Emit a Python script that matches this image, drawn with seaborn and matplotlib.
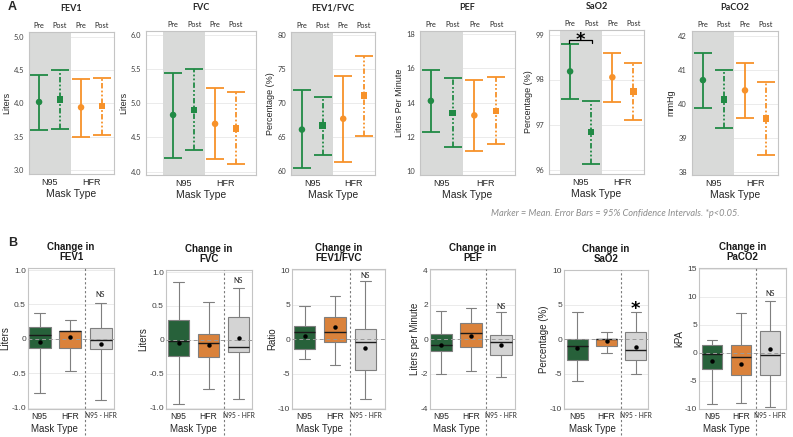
import numpy as np
import pandas as pd
import matplotlib
matplotlib.use('Agg')
import matplotlib.pyplot as plt
import matplotlib.transforms as mtransforms
from matplotlib.lines import Line2D
import seaborn as sns

sns.set_theme(style='white')
plt.rcParams['font.family'] = ['Liberation Sans', 'DejaVu Sans']
CAL = ['Lato', 'DejaVu Sans']

# ---------------- Panel A data: mean and 95% CI ----------------
a_masks = ['N95', 'N95', 'HFR', 'HFR']
a_phases = ['Pre', 'Post', 'Pre', 'Post']
a_titles = ['FEV1', 'FVC', 'FEV1/FVC', 'PEF', 'SaO2', 'PaCO2']
a_ylabels = ['Liters', 'Liters', 'Percentage (%)', 'Liters Per Minute', 'Percentage (%)', 'mmHg']

fev1_mean = [4.02, 4.06, 3.94, 3.96]
fev1_lo = [3.60, 3.61, 3.50, 3.52]
fev1_hi = [4.43, 4.50, 4.37, 4.38]

fvc_mean = [4.83, 4.90, 4.70, 4.63]
fvc_lo = [4.20, 4.31, 4.18, 4.11]
fvc_hi = [5.45, 5.50, 5.23, 5.16]

ratio_mean = [66.1, 66.7, 67.7, 71.1]
ratio_lo = [60.4, 62.3, 61.3, 65.2]
ratio_hi = [71.9, 70.9, 74.0, 77.0]

pef_mean = [14.1, 13.4, 13.25, 13.5]
pef_lo = [12.3, 11.4, 11.18, 11.55]
pef_hi = [15.9, 15.45, 15.33, 15.5]

sao2_mean = [98.18, 96.83, 98.05, 97.73]
sao2_lo = [97.56, 96.13, 97.49, 97.09]
sao2_hi = [98.79, 97.53, 98.60, 98.37]

paco2_mean = [40.70, 40.14, 40.40, 39.58]
paco2_lo = [39.88, 39.30, 39.60, 38.52]
paco2_hi = [41.50, 41.00, 41.20, 40.64]

a_yticks = [[3.0, 3.5, 4.0, 4.5, 5.0], [4.0, 4.5, 5.0, 5.5, 6.0], [60, 65, 70, 75, 80],
            [10, 12, 14, 16, 18], [96, 97, 98, 99], [38, 39, 40, 41, 42]]
a_ticklabels = [['3.0', '3.5', '4.0', '4.5', '5.0'], ['4.0', '4.5', '5.0', '5.5', '6.0'],
                ['60', '65', '70', '75', '80'], ['10', '12', '14', '16', '18'],
                ['96', '97', '98', '99'], ['38', '39', '40', '41', '42']]

# ---------------- Panel B data: change boxes (min, q1, median, q3, max) and means ----------------
b_groups = ['N95', 'HFR', 'N95 - HFR']
b_titles = ['Change in\nFEV1', 'Change in\nFVC', 'Change in\nFEV1/FVC', 'Change in\nPEF',
            'Change in\nSaO2', 'Change in\nPaCO2']
b_ylabels = ['Liters', 'Liters', 'Ratio', 'Liters per Minute', 'Percentage (%)', 'kPA']

chg_fev1_n95 = [-0.79, -0.14, 0.06, 0.17, 0.38]
chg_fev1_hfr = [-0.47, -0.14, 0.11, 0.12, 0.27]
chg_fev1_diff = [-0.89, -0.15, -0.01, 0.16, 0.52]
chg_fev1_means = [-0.04, 0.03, -0.07]

chg_fvc_n95 = [-0.95, -0.24, -0.02, 0.29, 0.85]
chg_fvc_hfr = [-0.73, -0.26, -0.05, 0.08, 0.56]
chg_fvc_diff = [-0.87, -0.18, -0.10, 0.34, 0.77]
chg_fvc_means = [-0.05, -0.08, 0.02]

chg_ratio_n95 = [-2.9, -1.4, 1.0, 2.0, 4.8]
chg_ratio_hfr = [-3.7, -0.4, 1.0, 3.3, 6.3]
chg_ratio_diff = [-8.7, -4.4, -0.4, 1.5, 8.5]
chg_ratio_means = [0.45, 1.75, -1.2]

chg_pef_n95 = [-2.0, -0.68, -0.3, 0.32, 1.65]
chg_pef_hfr = [-1.8, -0.45, 0.35, 0.95, 1.8]
chg_pef_diff = [-2.2, -0.9, -0.15, 0.25, 1.6]
chg_pef_means = [-0.35, 0.2, -0.35]

chg_sao2_n95 = [-6.0, -3.0, -1.0, 0.0, 4.0]
chg_sao2_hfr = [-2.0, -1.0, 0.0, 0.0, 1.0]
chg_sao2_diff = [-5.0, -3.0, -1.5, 1.0, 4.0]
chg_sao2_means = [-1.3, -0.3, -1.1]

chg_paco2_n95 = [-9.2, -3.0, -0.2, 1.3, 2.2]
chg_paco2_hfr = [-9.0, -4.0, -0.7, 1.3, 7.0]
chg_paco2_diff = [-9.7, -4.0, -0.5, 3.8, 9.2]
chg_paco2_means = [-1.4, -2.0, 0.6]

b_yticks = [[-1.0, -0.5, 0, 0.5, 1.0], [-1.0, -0.5, 0, 0.5, 1.0], [-10, -5, 0, 5, 10],
            [-4, -2, 0, 2, 4], [-10, -5, 0, 5, 10], [-10, -5, 0, 5, 10, 15]]
b_ticklabels = [['-1.0', '-0.5', '0', '0.5', '1.0'], ['-1.0', '-0.5', '0', '0.5', '1.0'],
                ['-10', '-5', '0', '5', '10'], ['-4', '-2', '0', '2', '4'],
                ['-10', '-5', '0', '5', '10'], ['-10', '-5', '0', '5', '10', '15']]
b_notes = ['NS', 'NS', 'NS', 'NS', '*', 'NS']
b_note_y = [0.64, 0.875, 9.3, 1.9, 3.6, 10.6]

# ---------------- layout / style ----------------
W, H = 793, 437
fig = plt.figure(figsize=(W / 100, H / 100), dpi=100)

def px_axes(l, t, r, b):
    return fig.add_axes([l / W, 1 - b / H, (r - l) / W, (b - t) / H])

top_colors = {'N95': '#218a45', 'HFR': '#f7922a'}
box_colors = {'N95': '#1d6b37', 'HFR': '#f47f20', 'N95 - HFR': '#d4d4d4'}
band_color = '#d9dad9'
spine_color = '#c4c4c4'
grid_color = '#ebebeb'
post_ls = (0, (3, 1.2, 1, 1.2, 1, 1.2))

a_boxes = [(29, 32, 114, 174), (146, 31, 256, 175), (291, 32, 375, 175),
           (420, 31, 515, 175), (549, 30, 644, 174), (692, 31, 778, 175)]
a_xlims = [(-0.48, 3.57), (-1.29, 3.95), (-0.53, 3.54), (-0.5, 3.87), (-1.0, 3.5), (-0.52, 3.57)]
a_ylims = [(2.94, 5.07), (3.95, 6.06), (59.4, 80.5), (9.75, 18.2), (95.9, 99.1), (37.92, 42.14)]

a_data = [(fev1_mean, fev1_lo, fev1_hi), (fvc_mean, fvc_lo, fvc_hi), (ratio_mean, ratio_lo, ratio_hi),
          (pef_mean, pef_lo, pef_hi), (sao2_mean, sao2_lo, sao2_hi), (paco2_mean, paco2_lo, paco2_hi)]

def style_frame(ax):
    for s in ax.spines.values():
        s.set_visible(True)
        s.set_color(spine_color)
        s.set_linewidth(0.8)
    ax.yaxis.grid(True, color=grid_color, lw=0.7)
    ax.xaxis.grid(False)
    ax.set_axisbelow(True)

for i in range(6):
    ax = px_axes(*a_boxes[i])
    means, los, his = a_data[i]
    df = pd.DataFrame({'pos': np.arange(len(a_masks)), 'mean': means, 'lo': los, 'hi': his,
                       'mask': a_masks, 'phase': a_phases})
    ax.axvspan(-0.5, 1.5, color=band_color, lw=0, zorder=1)
    for _, row in df.iterrows():
        c = top_colors[row['mask']]
        eb = ax.errorbar(row['pos'], row['mean'],
                         yerr=[[row['mean'] - row['lo']], [row['hi'] - row['mean']]],
                         fmt='none', ecolor=c, elinewidth=1.3, capsize=6.5, capthick=1.3, zorder=3)
        if row['phase'] == 'Post':
            eb[2][0].set_linestyle(post_ls)
    sns.scatterplot(data=df, x='pos', y='mean', hue='mask', style='phase',
                    markers={'Pre': 'o', 'Post': 's'}, palette=top_colors, s=22, linewidth=0,
                    legend=False, ax=ax, zorder=4)
    ax.set_xlim(*a_xlims[i])
    ax.set_ylim(*a_ylims[i])
    style_frame(ax)
    ax.set_yticks(a_yticks[i])
    ax.set_yticklabels(a_ticklabels[i], family=CAL, fontsize=5.4, color='#404040')
    ax.set_xticks([0.5, 2.5])
    ax.set_xticklabels(['N95', 'HFR'], fontsize=6.5, color='#262626')
    ax.tick_params(axis='x', length=0, pad=3)
    ax.tick_params(axis='y', length=2, width=0.6, color='#999999', pad=1.5)
    ax.set_xlabel('Mask Type', fontsize=7.5, labelpad=1.5, color='#262626')
    ax.set_ylabel(a_ylabels[i], fontsize=6.5, labelpad=2, color='#262626')
    trans = mtransforms.blended_transform_factory(ax.transData, ax.transAxes)
    for p, ph in zip(df['pos'], df['phase']):
        ax.text(p, 1.045, ph, transform=trans, ha='center', va='center', fontsize=5.3,
                family=CAL, color='#262626')
    ax.text(0.5, 1.165, a_titles[i], transform=ax.transAxes, ha='center', va='center',
            fontsize=6.5, fontweight='bold', family=CAL, color='#262626')
    if a_titles[i] == 'SaO2':
        yb = 98.88
        ax.plot([-0.05, -0.05, 1.05, 1.05], [yb - 0.06, yb, yb, yb - 0.06], color='black',
                lw=0.9, zorder=5, clip_on=False)
        ax.text(0.5, 98.77, '*', ha='center', va='baseline', fontsize=13, fontweight='bold',
                family='DejaVu Sans', color='black', zorder=6)

fig.text(8 / W, 1 - 7 / H, 'A', fontsize=9, fontweight='bold', va='center', ha='left')
fig.text(8 / W, 1 - 243 / H, 'B', fontsize=9, fontweight='bold', va='center', ha='left')
fig.text(615 / W, 1 - 213 / H, 'Marker = Mean. Error Bars = 95% Confidence Intervals. *p<0.05.',
         ha='center', va='center', fontsize=6.7, style='italic', family=CAL, color='#8c8c8c')

# ---------------- Panel B ----------------
b_boxes = [(28, 268, 114, 409), (166, 270, 252, 409), (292, 269, 385, 409),
           (430, 269, 515, 409), (564, 270, 648, 409), (699, 268, 786, 409)]
b_xlims = [(-0.38, 2.44), (-0.42, 2.45), (-0.41, 2.64), (-0.37, 2.47), (-0.46, 2.42), (-0.45, 2.55)]
b_ylims = [(-1.02, 1.03), (-1.02, 1.03), (-10.1, 10.2), (-4.02, 4.06), (-10.1, 10.05), (-10.05, 15.1)]
b_data = [(chg_fev1_n95, chg_fev1_hfr, chg_fev1_diff, chg_fev1_means),
          (chg_fvc_n95, chg_fvc_hfr, chg_fvc_diff, chg_fvc_means),
          (chg_ratio_n95, chg_ratio_hfr, chg_ratio_diff, chg_ratio_means),
          (chg_pef_n95, chg_pef_hfr, chg_pef_diff, chg_pef_means),
          (chg_sao2_n95, chg_sao2_hfr, chg_sao2_diff, chg_sao2_means),
          (chg_paco2_n95, chg_paco2_hfr, chg_paco2_diff, chg_paco2_means)]

for i in range(6):
    l, t, r, b = b_boxes[i]
    ax = px_axes(l, t, r, b)
    n95, hfr, diff, means = b_data[i]
    df = pd.DataFrame({'grp': np.repeat(b_groups, 5), 'val': np.concatenate([n95, hfr, diff])})
    sns.boxplot(data=df, x='grp', y='val', hue='grp', order=b_groups, hue_order=b_groups,
                palette=box_colors, whis=(0, 100), width=0.72, linecolor='#7f7f7f',
                linewidth=0.8, showfliers=False, legend=False, ax=ax,
                medianprops={'color': '#1a1a1a', 'linewidth': 1.0})
    sns.pointplot(x=b_groups, y=means, order=b_groups, color='black', linestyle='none',
                  markers='o', markersize=3.2, markeredgewidth=0, errorbar=None, ax=ax,
                  zorder=6)
    ax.axhline(0, color='#9a9a9a', lw=0.7, ls=(0, (4, 3)), zorder=5)
    ax.set_xlim(*b_xlims[i])
    ax.set_ylim(*b_ylims[i])
    style_frame(ax)
    ax.set_yticks(b_yticks[i])
    ax.set_yticklabels(b_ticklabels[i], fontsize=6, color='#404040')
    ax.set_xticks([0, 1, 2])
    ax.set_xticklabels(b_groups, fontsize=6.2, color='#262626')
    ax.get_xticklabels()[2].set_fontsize(4.8)
    ax.get_xticklabels()[2].set_family(CAL)
    ax.tick_params(axis='x', length=0, pad=2.2)
    ax.tick_params(axis='y', length=0, pad=1.5)
    ax.set_xlabel('')
    ax.set_ylabel(b_ylabels[i], fontsize=7, labelpad=0.5, color='#262626')
    hgt = b - t
    trans = mtransforms.blended_transform_factory(ax.transData, ax.transAxes)
    ax.add_line(Line2D([1.5, 1.5], [(b - 435) / hgt, 1.0], transform=trans, color='#7a7a7a',
                       lw=0.8, ls=(0, (2, 2)), clip_on=False, zorder=6))
    ax.text(0.5, (b - 429) / hgt, 'Mask Type', transform=trans, ha='center', va='center',
            fontsize=7, color='#262626')
    if b_notes[i] == '*':
        ax.text(2, b_note_y[i], '*', ha='center', va='baseline', fontsize=13, fontweight='bold',
                family='DejaVu Sans', color='black')
    else:
        ax.text(2, b_note_y[i], b_notes[i], ha='center', va='center', fontsize=5.2,
                family=CAL, color='#262626')
    ax.text(0.5, 1 + 16 / hgt, b_titles[i], transform=ax.transAxes, ha='center',
            va='center', fontsize=7, fontweight='bold', color='#1a1a1a', linespacing=1.05)

fig.savefig('out.png', dpi=100)
